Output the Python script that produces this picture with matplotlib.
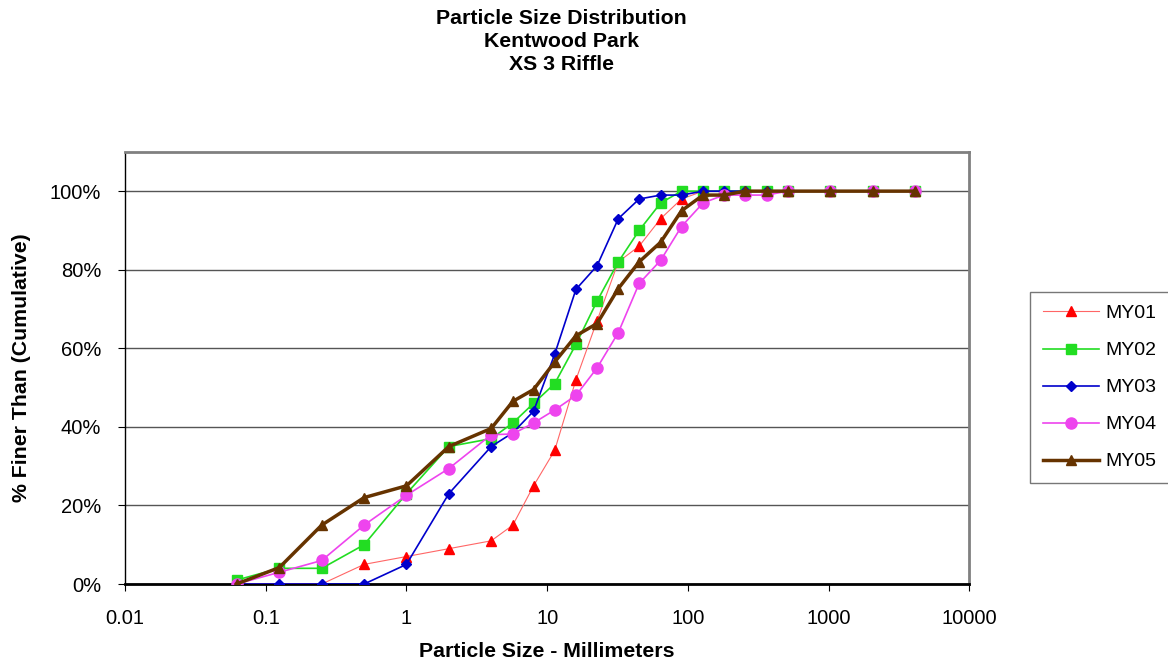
import matplotlib
matplotlib.use("Agg")
import matplotlib.pyplot as plt
from matplotlib.ticker import FuncFormatter, FixedLocator

plt.rcParams['font.family'] = ['Liberation Sans', 'DejaVu Sans']

sizes = [0.062, 0.125, 0.25, 0.5, 1, 2, 4, 5.7, 8, 11.3, 16, 22.6, 32, 45, 64,
         90, 128, 180, 256, 362, 512, 1024, 2048, 4096]
my01 = [0, 0, 0, 5, 7, 9, 11, 15, 25, 34, 52, 67, 82, 86, 93, 98, 100, 100, 100, 100, 100, 100, 100, 100]
my02 = [1, 4, 4, 10, 23, 35, 37, 41, 46, 51, 61, 72, 82, 90, 97, 100, 100, 100, 100, 100, 100, 100, 100, 100]
my03 = [0, 0, 0, 0, 5, 23, 35, 38.5, 44, 58.5, 75, 81, 93, 98, 99, 99, 100, 100, 100, 100, 100, 100, 100, 100]
my04 = [0, 3, 6, 15, 22.6, 29.4, 38, 38.2, 41, 44.3, 48, 55, 64, 76.5, 82.4, 91, 97, 99, 99, 99, 100, 100, 100, 100]
my05 = [0, 4.2, 15, 22, 25, 35, 39.6, 46.5, 49.5, 56.5, 63.2, 66.3, 75.2, 82, 87, 95, 99, 99, 100, 100, 100, 100, 100, 100]

series = [
    ("MY01", my01, "#FF0000", "^", 0.8, 7, "#FF6666"),
    ("MY02", my02, "#22DD22", "s", 1.2, 7, "#22DD22"),
    ("MY03", my03, "#0000CC", "D", 1.2, 5, "#0000CC"),
    ("MY04", my04, "#EE44EE", "o", 1.2, 8, "#EE44EE"),
    ("MY05", my05, "#663300", "^", 2.5, 7, "#663300"),
]

fig = plt.figure(figsize=(11.68, 6.69), dpi=100)
ax = fig.add_axes([0.107, 0.127, 0.723, 0.646])

for name, vals, col, mk, lw, ms, lcol in series:
    ax.plot(sizes, vals, color=lcol, lw=lw, marker=mk, ms=ms,
            markerfacecolor=col, markeredgecolor=col, label=name, zorder=3)

ax.set_xscale('log')
ax.set_xlim(0.01, 10000)
ax.set_ylim(0, 110)
ax.set_yticks([0, 20, 40, 60, 80, 100])
ax.yaxis.set_major_formatter(FuncFormatter(lambda v, p: f"{int(v)}%"))
ax.xaxis.set_major_locator(FixedLocator([0.01, 0.1, 1, 10, 100, 1000, 10000]))
ax.xaxis.set_minor_locator(FixedLocator([]))
ax.xaxis.set_major_formatter(FuncFormatter(lambda v, p: f"{v:g}"))
ax.grid(axis='y', color='#555555', lw=1.0, zorder=1)
ax.tick_params(axis='both', labelsize=14.5, direction='out', length=5, color='black')
ax.tick_params(axis='x', pad=13)
ax.tick_params(axis='y', pad=12)

for s in ['top', 'right']:
    ax.spines[s].set_color('#808080')
    ax.spines[s].set_linewidth(2)
ax.spines['left'].set_color('black')
ax.spines['left'].set_linewidth(1)
ax.spines['bottom'].set_color('black')
ax.spines['bottom'].set_linewidth(2)

ax.set_xlabel("Particle Size - Millimeters", fontsize=15.3, fontweight='bold', labelpad=10)
ax.set_ylabel("% Finer Than (Cumulative)", fontsize=15.3, fontweight='bold', labelpad=14)

fig.text(0.481, 0.986, "Particle Size Distribution\nKentwood Park\nXS 3 Riffle",
         ha='center', va='top', fontsize=15.3, fontweight='bold', linespacing=1.25)

leg = fig.legend(loc='upper left', bbox_to_anchor=(0.882, 0.5635), fontsize=14,
                 frameon=True, fancybox=False, edgecolor='#555555', borderaxespad=0,
                 handlelength=2.9, labelspacing=1.0, borderpad=0.65, handletextpad=0.3)
leg.get_frame().set_linewidth(1)

fig.savefig("out.png", dpi=100)
